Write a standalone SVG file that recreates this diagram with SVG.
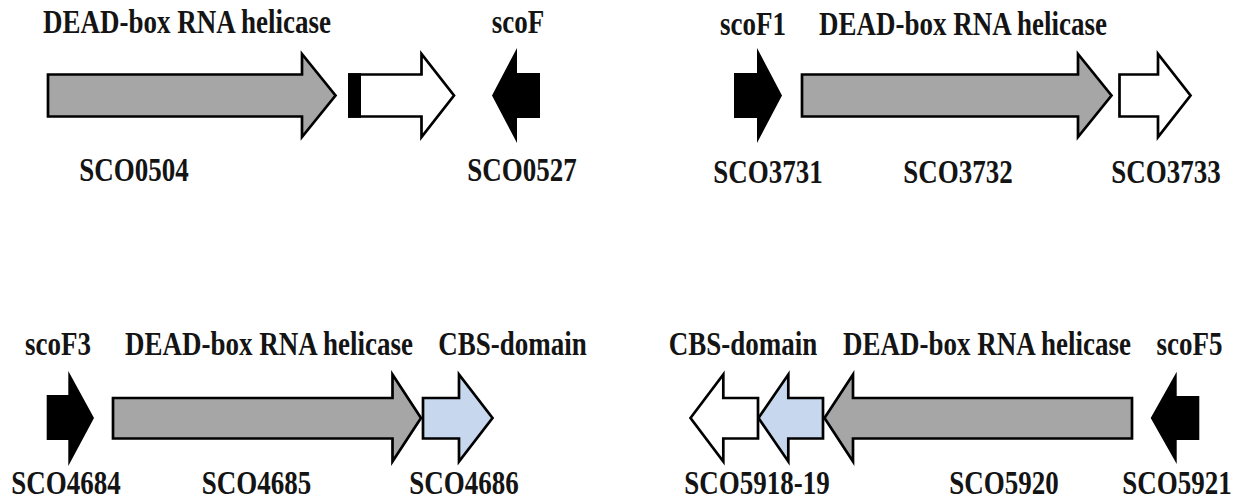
<svg xmlns="http://www.w3.org/2000/svg" width="1243" height="501" viewBox="0 0 1243 501">
<style>
.lbl{font-family:"Liberation Serif","Times New Roman",serif;font-weight:bold;font-size:27px;fill:#141414;text-anchor:middle}
.gene{stroke:#000;stroke-width:2.7;stroke-linejoin:miter}
.grey{fill:#a6a6a6}
.white{fill:#fff}
.blue{fill:#c6d7ee}
.black{fill:#000}
</style>
<rect width="1243" height="501" fill="#fff"/>

<!-- Panel 1 -->
<g id="SCO0504">
<polygon class="gene grey" points="48,74.5 302,74.5 302,54 335.5,95.5 302,137 302,116.5 48,116.5"/>
<text class="lbl" transform="translate(187,33) scale(1,1.24)">DEAD-box RNA helicase</text>
<text class="lbl" transform="translate(134,181) scale(1,1.24)">SCO0504</text>
</g>
<g id="SCO0504_downstream">
<polygon class="gene white" points="349.5,74.5 421.5,74.5 421.5,54 454,95.5 421.5,137 421.5,116.5 349.5,116.5"/>
<rect class="black" x="348" y="73.2" width="13" height="44.6"/>
</g>
<g id="SCO0527">
<polygon class="black" points="492,95.5 517,48 517,73 540,73 540,118 517,118 517,143"/>
<text class="lbl" transform="translate(518,33) scale(1,1.24)">scoF</text>
<text class="lbl" transform="translate(522,181) scale(1,1.24)">SCO0527</text>
</g>

<!-- Panel 2 -->
<g id="SCO3731">
<polygon class="black" points="734,73 757,73 757,48 782,95.5 757,143 757,118 734,118"/>
<text class="lbl" transform="translate(753,35) scale(1,1.24)">scoF1</text>
<text class="lbl" transform="translate(768,183) scale(1,1.24)">SCO3731</text>
</g>
<g id="SCO3732">
<polygon class="gene grey" points="802,74.5 1078,74.5 1078,54 1111.5,95.5 1078,137 1078,116.5 802,116.5"/>
<text class="lbl" transform="translate(963,35) scale(1,1.24)">DEAD-box RNA helicase</text>
<text class="lbl" transform="translate(958,183) scale(1,1.24)">SCO3732</text>
</g>
<g id="SCO3733">
<polygon class="gene white" points="1119.5,74.5 1158,74.5 1158,54 1190.5,95.5 1158,137 1158,116.5 1119.5,116.5"/>
<text class="lbl" transform="translate(1166,183) scale(1,1.24)">SCO3733</text>
</g>

<!-- Panel 3 -->
<g id="SCO4684">
<polygon class="black" points="46.7,395 68.3,395 68.3,371 94,418 68.3,466 68.3,440 46.7,440"/>
<text class="lbl" transform="translate(58,355) scale(1,1.24)">scoF3</text>
<text class="lbl" transform="translate(66,494) scale(1,1.24)">SCO4684</text>
</g>
<g id="SCO4685">
<polygon class="gene grey" points="113,398 392.5,398 392.5,374.5 421,418 392.5,461.5 392.5,438.5 113,438.5"/>
<text class="lbl" transform="translate(269,355) scale(1,1.24)">DEAD-box RNA helicase</text>
<text class="lbl" transform="translate(256.5,494) scale(1,1.24)">SCO4685</text>
</g>
<g id="SCO4686">
<polygon class="gene blue" points="423,398 459,398 459,374.5 492.5,418 459,461.5 459,438.5 423,438.5"/>
<text class="lbl" transform="translate(512.5,355) scale(1,1.24)">CBS-domain</text>
<text class="lbl" transform="translate(464,494) scale(1,1.24)">SCO4686</text>
</g>

<!-- Panel 4 -->
<g id="SCO5918">
<polygon class="gene white" points="690.5,418 723.3,374.5 723.3,398 758,398 758,438.5 723.3,438.5 723.3,461.5"/>
</g>
<g id="SCO5919">
<polygon class="gene blue" points="758.5,418 788.3,374.5 788.3,398 823,398 823,438.5 788.3,438.5 788.3,461.5"/>
<text class="lbl" transform="translate(743,355) scale(1,1.24)">CBS-domain</text>
<text class="lbl" transform="translate(757,494) scale(1,1.24)">SCO5918-19</text>
</g>
<g id="SCO5920">
<polygon class="gene grey" points="824.5,418 853,374.5 853,398 1132,398 1132,438.5 853,438.5 853,461.5"/>
<text class="lbl" transform="translate(987,355) scale(1,1.24)">DEAD-box RNA helicase</text>
<text class="lbl" transform="translate(1004,494) scale(1,1.24)">SCO5920</text>
</g>
<g id="SCO5921">
<polygon class="black" points="1150.7,418 1176.7,371.7 1176.7,396 1199.3,396 1199.3,440 1176.7,440 1176.7,464"/>
<text class="lbl" transform="translate(1189.5,355) scale(1,1.24)">scoF5</text>
<text class="lbl" transform="translate(1177,494) scale(1,1.24)">SCO5921</text>
</g>
</svg>
